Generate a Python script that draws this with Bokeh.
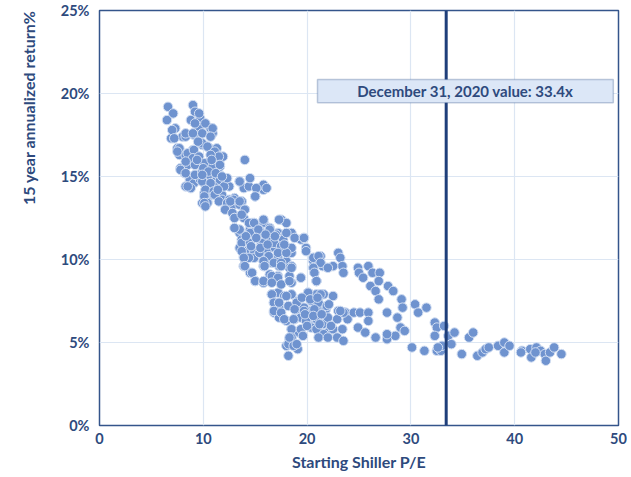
from bokeh.plotting import figure
from bokeh.models import Span, BoxAnnotation, Label, NumeralTickFormatter, FixedTicker, Range1d, Title
from bokeh.embed import file_html
from bokeh.resources import INLINE

# ---- data ----
cape_2020 = 33.4
annot_text = f"December 31, 2020 value: {cape_2020}x"
x_label = "Starting Shiller P/E"
y_label = "15 year annualized return%"
x_ticks = [0, 10, 20, 30, 40, 50]
y_ticks_pct = [0, 5, 10, 15, 20, 25]

# cluster 1: low P/E, high returns
pe_a = [6.6, 7.1, 6.5, 7.3, 6.9, 9.0, 9.2, 9.7, 8.8, 9.6, 10.7, 10.9, 8.0, 8.3, 9.1, 7.5, 7.7, 8.3, 9.0, 9.9,
        10.6, 11.3, 11.6, 11.9, 14.0, 7.8, 8.2, 8.5, 9.2, 9.9, 10.6, 10.9, 11.6, 11.8, 8.7, 9.1, 9.7, 8.3, 8.8, 10.2,
        10.7, 11.1, 12.0, 12.5, 13.5, 13.9, 14.4, 10.1, 10.4, 9.9, 11.0, 11.8, 12.1, 13.0, 13.7,
        9.6, 9.2, 10.2, 10.9, 7.0, 7.2, 8.3, 9.0, 9.9, 10.7, 9.9, 10.4, 11.1, 11.5, 7.7, 7.5, 8.5, 9.1, 9.0,
        9.6, 10.7, 8.3, 9.2, 10.1, 10.9, 11.6, 7.8, 8.3, 9.2, 9.9, 10.6, 11.3, 9.9, 10.7, 11.6, 12.0, 8.5,
        10.2, 11.0, 10.1, 10.4, 11.1, 11.8, 12.5, 12.9, 13.5, 15.9, 15.0, 15.8,
        10.0, 10.5, 9.4, 11.2, 12.3, 10.8, 9.5, 11.4]
ret_a = [19.2, 18.8, 18.4, 17.9, 17.3, 19.3, 18.9, 18.5, 18.4, 18.0, 17.9, 17.6, 17.4, 17.4, 17.5, 16.7, 16.3, 16.3, 16.6, 16.9,
         16.7, 16.7, 16.2, 16.2, 16.0, 15.5, 15.2, 15.7, 15.9, 15.7, 15.9, 15.6, 15.6, 15.0, 14.8, 14.6, 14.8, 14.4, 14.3, 14.5,
         14.4, 14.6, 14.5, 14.4, 14.7, 14.3, 14.4, 14.0, 13.5, 13.4, 13.9, 13.9, 13.5, 13.7, 13.5,
         18.8, 18.2, 18.2, 17.9, 17.8, 17.3, 17.6, 17.6, 17.6, 17.4, 17.0, 16.8, 16.5, 16.2, 16.7, 16.5, 16.4, 16.6, 16.1,
         16.2, 16.3, 15.9, 15.7, 15.8, 15.6, 15.7, 15.4, 15.2, 15.1, 15.3, 15.1, 15.0, 14.7, 14.6, 14.8, 14.4, 14.4,
         14.2, 14.1, 13.8, 13.4, 13.9, 13.6, 13.6, 13.3, 13.3, 14.4, 13.8, 14.2,
         15.5, 15.3, 16.0, 15.2, 14.9, 16.0, 17.1, 14.2]

# cluster 2: mid P/E, 9-13% returns
pe_b = [9.9, 11.8, 14.5, 13.5, 15.8, 15.1, 15.0, 16.1, 10.1, 10.2, 11.5, 12.3, 12.9, 13.7, 12.1, 12.8, 13.0, 13.9, 14.0,
        14.9, 15.8, 17.5, 18.0, 13.5, 14.5, 15.3, 16.4, 17.2, 18.5, 19.4, 19.9, 13.7, 14.4, 15.6, 16.6, 17.7, 13.5, 14.2,
        14.9, 16.1, 16.9, 18.2, 18.5, 13.9, 14.9, 15.9, 17.2, 18.0, 13.9, 15.8, 16.6, 17.3, 18.5,
        12.6, 13.5, 14.0, 13.0, 14.7, 15.8, 17.3, 13.5, 14.5, 15.4, 16.4, 17.0, 18.0, 18.8, 19.7, 13.7, 14.5, 15.8,
        16.8, 17.5, 18.5, 13.7, 14.4, 15.4, 16.3, 17.2, 18.0, 15.8, 16.8, 17.5, 13.9, 14.5, 18.3, 16.4, 17.2, 18.3,
        19.4, 15.0, 15.8, 20.7, 20.7, 20.6, 13.7, 14.4, 14.9, 15.8, 13.0, 15.3, 16.4,
        14.1, 15.1, 16.0, 16.9, 14.6, 15.5, 17.8, 16.2]
ret_b = [15.1, 15.0, 14.9, 14.7, 14.5, 14.3, 13.8, 14.3, 13.4, 13.2, 13.5, 13.4, 13.6, 13.5, 13.0, 12.8, 12.5, 12.5, 13.0,
         12.2, 12.2, 12.4, 12.2, 11.6, 11.8, 11.6, 11.8, 11.6, 11.6, 11.2, 10.7, 11.2, 11.0, 11.0, 11.2, 11.2, 10.7, 10.5,
         10.5, 10.5, 10.7, 10.7, 10.4, 10.2, 10.1, 10.1, 10.1, 9.9, 9.6, 9.6, 9.8, 9.6, 9.6,
         13.5, 13.5, 13.0, 12.5, 12.2, 12.2, 12.4, 11.8, 11.6, 11.8, 11.9, 11.5, 11.6, 11.3, 11.3, 11.0, 11.0, 11.0,
         11.0, 10.8, 10.7, 10.5, 10.1, 10.4, 10.2, 10.4, 10.4, 9.9, 9.8, 9.8, 9.6, 9.2, 9.5, 9.1, 9.0, 9.0,
         8.9, 8.7, 8.6, 9.8, 9.2, 10.1, 12.7, 12.2, 12.2, 12.4, 11.9, 11.8, 11.8,
         11.4, 11.3, 11.5, 11.4, 10.8, 10.7, 10.9, 10.9]

# cluster 3: P/E 14-24, 4-10% returns
pe_c = [13.9, 14.0, 14.7, 15.0, 15.8, 15.9, 16.6, 17.2, 17.5, 18.5, 18.5, 19.4, 20.9, 20.6, 21.3, 20.6, 21.5,
        16.6, 17.2, 17.8, 18.5, 19.1, 20.1, 20.9, 21.6, 16.8, 17.3, 18.2, 19.0, 19.7, 20.4, 21.1, 21.8,
        16.8, 17.3, 18.0, 18.8, 19.4, 20.1, 20.9, 21.5, 18.5, 19.2, 20.4, 21.1, 22.0, 18.3, 18.7, 18.0, 19.1, 18.2,
        15.8, 16.6, 17.5, 18.3, 20.9, 16.6, 18.0, 20.1, 21.3, 22.5, 16.8, 17.3, 19.0, 20.4, 21.1, 16.8, 17.5, 18.8,
        19.7, 20.7, 21.8, 23.0, 23.7, 17.8, 18.7, 19.9, 20.9, 22.0, 22.9, 23.9, 18.5, 19.4, 20.9, 21.6, 22.5, 23.4,
        21.1, 22.0, 22.9, 23.5, 18.5, 18.2, 18.7, 18.3, 19.0,
        19.5, 20.3, 21.0, 21.9, 19.8, 20.6, 21.4, 22.3, 20.0, 21.2, 22.1, 19.6]
ret_c = [10.1, 9.6, 9.2, 8.7, 8.6, 9.6, 9.0, 8.9, 9.6, 9.5, 8.6, 8.9, 8.7, 9.5, 10.2, 9.9, 9.6,
         7.9, 8.0, 7.8, 7.9, 7.5, 8.0, 7.9, 7.9, 7.4, 7.1, 7.2, 7.0, 7.1, 6.9, 7.1, 7.0,
         6.8, 6.5, 6.3, 6.4, 6.5, 6.3, 6.3, 6.1, 5.8, 5.6, 5.9, 5.7, 5.6, 5.2, 5.0, 4.8, 4.6, 4.2,
         8.7, 8.6, 8.5, 8.7, 8.7, 7.9, 7.8, 8.0, 7.9, 7.8, 7.4, 7.4, 7.4, 7.5, 7.4, 6.9, 6.8, 7.0,
         6.9, 7.0, 7.0, 6.9, 6.8, 6.4, 6.4, 6.3, 6.4, 6.5, 6.4, 6.4, 5.8, 5.8, 5.8, 5.5, 5.8, 5.8,
         5.3, 5.3, 5.3, 5.1, 5.3, 4.9, 4.8, 5.3, 4.9,
         7.7, 7.6, 7.7, 7.2, 6.7, 6.6, 6.7, 6.0, 6.0, 6.1, 7.3, 5.4]

# cluster 4: P/E 19-32 band
pe_d = [19.7, 19.9, 20.6, 21.1, 21.3, 20.6, 20.7, 20.9, 23.0, 23.2, 23.4, 22.5, 22.0, 23.5, 24.9, 25.0, 25.4,
        25.9, 26.3, 27.0, 26.9, 26.1, 26.6, 26.9, 27.8, 28.3, 29.1, 29.2, 30.4, 30.7, 31.5, 27.7, 28.7, 29.0,
        29.4, 30.1, 31.3, 24.5, 25.1, 25.9, 25.9, 23.5, 23.2, 24.9, 25.6, 26.6, 27.7, 28.5, 27.7]
ret_d = [11.3, 10.5, 10.1, 10.2, 9.8, 9.5, 9.2, 8.7, 10.4, 10.1, 9.6, 9.6, 9.5, 9.2, 9.5, 9.2, 8.9,
         9.6, 9.2, 9.2, 8.7, 8.4, 8.1, 7.6, 8.4, 8.1, 7.6, 7.1, 7.3, 6.8, 7.1, 6.8, 6.5, 5.9,
         5.7, 4.7, 4.5, 6.8, 6.8, 6.8, 6.3, 6.8, 6.9, 5.9, 5.6, 5.3, 5.2, 5.4, 5.5]

# cluster 5: high P/E tail
pe_e = [32.3, 32.5, 33.2, 32.3, 33.6, 34.2, 33.9, 35.6, 36.0, 32.5, 32.9, 33.0, 34.9, 36.4, 36.9, 37.2, 37.5,
        38.4, 39.0, 39.0, 39.5, 40.7, 41.5, 41.6, 42.1, 42.5, 42.9, 43.0, 43.4, 43.8, 44.5, 40.6, 42.0, 32.6]
ret_e = [6.2, 5.9, 6.0, 5.4, 5.4, 5.6, 4.9, 5.3, 5.6, 4.5, 4.5, 4.8, 4.3, 4.2, 4.4, 4.6, 4.7,
         4.8, 5.0, 4.4, 4.8, 4.5, 4.6, 4.1, 4.7, 4.5, 4.3, 3.9, 4.4, 4.7, 4.3, 4.4, 4.4, 4.7]

pe = pe_a + pe_b + pe_c + pe_d + pe_e
ret = [v / 100 for v in ret_a + ret_b + ret_c + ret_d + ret_e]

# ---- style ----
TXT = "#2E4A7D"
NAVY = "#1F3F7A"
FONT = "Lato"

p = figure(width=627, height=473, output_backend="svg", toolbar_location=None,
           x_range=Range1d(0, 50), y_range=Range1d(0, 0.25),
           min_border_left=94, min_border_top=10, min_border_right=9, min_border_bottom=6)

p.scatter(pe, ret, size=9.5, fill_color="#6F93CF", line_color="#D3DFF3", line_width=1)

p.outline_line_color = "#34558B"
p.outline_line_width = 1.5
p.background_fill_color = "white"
p.border_fill_color = "white"

p.xaxis.ticker = FixedTicker(ticks=x_ticks)
p.yaxis.ticker = FixedTicker(ticks=[v / 100 for v in y_ticks_pct])
p.yaxis.formatter = NumeralTickFormatter(format="0%")

for ax in (p.xaxis, p.yaxis):
    ax.axis_line_color = None
    ax.major_tick_line_color = None
    ax.minor_tick_line_color = None
    ax.major_tick_out = 0
    ax.major_tick_in = 0
    ax.minor_tick_out = 0
    ax.minor_tick_in = 0
    ax.major_label_text_font = FONT
    ax.major_label_text_font_style = "bold"
    ax.major_label_text_font_size = "14.5px"
    ax.major_label_text_color = TXT
    ax.axis_label_text_font = FONT
    ax.axis_label_text_font_style = "bold"
    ax.axis_label_text_font_size = "16px"
    ax.axis_label_text_color = TXT

p.xaxis.axis_label = x_label
p.xaxis.major_label_standoff = 7
p.xaxis.axis_label_standoff = 5
p.yaxis.major_label_standoff = 10

# y-axis title, top-aligned at the left like the reference
p.add_layout(Title(text=y_label, align="right", vertical_align="top", text_font=FONT,
                   text_font_style="bold", text_font_size="16px", text_color=TXT, standoff=36), "left")

p.xgrid.grid_line_color = "#DCE6F3"
p.ygrid.grid_line_color = "#DCE6F3"
p.xgrid.grid_line_width = 1.2
p.ygrid.grid_line_width = 1.2

p.add_layout(Span(location=cape_2020, dimension="height", line_color=NAVY, line_width=3))
p.add_layout(BoxAnnotation(left=21.0, right=49.5, bottom=0.1945, top=0.2085,
                           fill_color="#DCE7F7", fill_alpha=1.0,
                           line_color="#34558B", line_width=1.5))
p.add_layout(Label(x=35.25, y=0.2015, text=annot_text, text_align="center", text_baseline="middle",
                   text_font=FONT, text_font_style="bold", text_font_size="15px", text_color=TXT))

open("out.html", "w").write(file_html(p, INLINE))
